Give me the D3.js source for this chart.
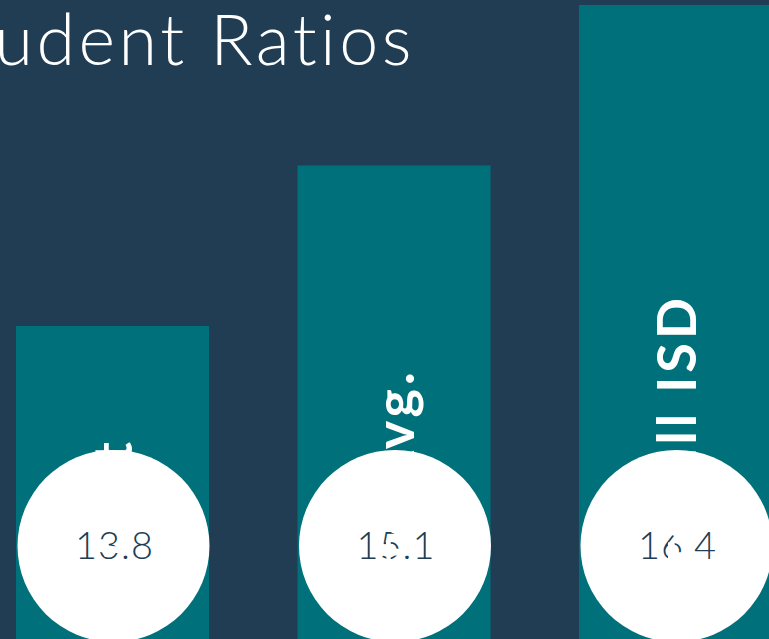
<!DOCTYPE html>
<html>
<head>
<meta charset="utf-8">
<script src="https://cdn.jsdelivr.net/npm/d3@7"></script>
<style>
    body { margin: 0; background: #203d54; overflow: hidden; }
    svg { display: block; }
</style>
</head>
<body>
<div id="chart"></div>
<script>
// data
var categories = ["District", "State Avg.", "Marshall ISD"];
var ratios = [13.8, 15.1, 16.4];
var titleText = "Teacher-Student Ratios";

var svg_width = 769;
var svg_height = 639;

var svg = d3.select("#chart")
    .append("svg")
    .attr("width", svg_width)
    .attr("height", svg_height);

svg.append("rect")
    .attr("width", svg_width)
    .attr("height", svg_height)
    .attr("fill", "#203d54");

var rows = categories.map(function(c, i) {
    return { name: c, value: ratios[i] };
});

// scales
var xScale = d3.scaleBand()
    .domain(categories)
    .range([16, 772])
    .paddingInner(0.3144)
    .paddingOuter(0);

var yScale = d3.scaleLinear()
    .domain([13.8, 16.4])
    .range([326, 5]);

// title (runs off the left edge, like the slide it came from)
svg.append("text")
    .attr("x", 415)
    .attr("y", 65)
    .attr("text-anchor", "end")
    .attr("fill", "#ffffff")
    .attr("font-family", "Lato, 'Open Sans', sans-serif")
    .attr("font-weight", 300)
    .attr("font-size", 70)
    .attr("letter-spacing", 3.5)
    .text(titleText);

// bars
svg.append("g").selectAll("rect")
    .data(rows)
    .enter()
    .append("rect")
    .attr("x", d => xScale(d.name))
    .attr("y", d => yScale(d.value))
    .attr("width", xScale.bandwidth())
    .attr("height", d => svg_height + 10 - yScale(d.value))
    .attr("fill", "#00707a");

var cy = 546;

// circles with the values
svg.append("g").selectAll("circle")
    .data(rows)
    .enter()
    .append("circle")
    .attr("cx", d => xScale(d.name) + xScale.bandwidth() / 2 + 1)
    .attr("cy", cy)
    .attr("r", 96)
    .attr("fill", "#ffffff");

svg.append("g").selectAll("text")
    .data(rows)
    .enter()
    .append("text")
    .attr("x", d => xScale(d.name) + xScale.bandwidth() / 2 + 2)
    .attr("y", cy + 13)
    .attr("text-anchor", "middle")
    .attr("fill", "#203d54")
    .attr("font-family", "Lato, 'Open Sans', sans-serif")
    .attr("font-weight", 300)
    .attr("font-size", 38)
    .attr("letter-spacing", 1)
    .text(d => d.value.toFixed(1));

// rotated category labels, drawn last (white over the circles)
svg.append("g").selectAll("text")
    .data(rows)
    .enter()
    .append("text")
    .attr("transform", d => `translate(${xScale(d.name) + xScale.bandwidth() / 2 + 20}, 648) rotate(-90)`)
    .attr("fill", "#ffffff")
    .attr("font-family", "Lato, 'Open Sans', sans-serif")
    .attr("font-weight", 700)
    .attr("font-size", 54)
    .attr("letter-spacing", 4)
    .text(d => d.name);
</script>
</body>
</html>
